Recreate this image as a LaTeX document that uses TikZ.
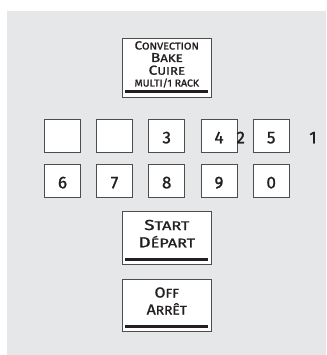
\documentclass[tikz,border=0pt]{standalone}
\usepackage{fontspec}
\setmainfont{Fira Sans}[FakeBold=1.2]
\definecolor{panel}{HTML}{E6E7E8}
\definecolor{rim}{HTML}{4D4D4D}
\definecolor{ink}{HTML}{231F20}
% first letter full size, rest in smaller capitals
\newcommand\capsc[4]{{\fontsize{#1}{#1}\selectfont #3}{\fontsize{#2}{#2}\selectfont #4}}
\tikzset{
  key/.style={draw=rim, fill=white, line width=0.8pt, minimum width=36pt,
    minimum height=33pt, inner sep=0pt, text height=15pt, text depth=0pt,
    text=ink, font=\fontsize{17}{17}\selectfont},
  digit/.style={inner sep=0pt, anchor=base, text=ink, font=\fontsize{17}{17}\selectfont},
  panelkey/.style={draw=rim, fill=white, line width=0.8pt, minimum width=89pt,
    inner sep=0pt},
  bar/.style={line width=2.8pt, ink},
  caption/.style={inner sep=0pt, anchor=base, text=ink}
}

\begin{document}
\begin{tikzpicture}[x=1pt,y=-1pt]
  \useasboundingbox (0,0) rectangle (326,355);
  \fill[panel] (7,11) rectangle (326,355);

  % Convection key
  \node[panelkey, minimum height=59pt] (conv) at (166.8,67.5) {};
  \draw[bar] ([xshift=3.5pt,yshift=5.5pt]conv.south west) -- ([xshift=-3.5pt,yshift=5.5pt]conv.south east);
  \node[caption, xscale=1.12] (convA) at (166.8,49.5) {\capsc{11.8}{9.8}{C}{ONVECTION}};
  \node[caption, xscale=1.2] (convB) at (166.8,62) {\capsc{13}{11}{B}{AKE}};
  \node[caption, xscale=1.2] (convC) at (166.8,74.7) {\capsc{13}{11}{C}{UIRE}};
  \node[caption, xscale=1.05, font=\fontsize{10}{10}\selectfont] (convD) at (166.8,86.5) {MULTI/1 RACK};

  % Number keys, top row
  \node[key] (k1) at (62.5,135.8) {};
  \node[key] (k2) at (114.5,135.8) {};
  \node[key] (k3) at (166.7,135.8) {3};
  \node[key] (k4) at (219,135.8) {4};
  \node[key] (k5) at (271.2,135.8) {5};
  \node[digit] (two) at (240.7,143.3) {2};
  \node[digit] (one) at (313,143.3) {1};

  % Number keys, bottom row
  \node[key] (k6) at (62.5,180.8) {6};
  \node[key] (k7) at (114.5,180.8) {7};
  \node[key] (k8) at (166.7,180.8) {8};
  \node[key] (k9) at (219,180.8) {9};
  \node[key] (k0) at (271.2,180.8) {0};

  % Start key
  \node[panelkey, minimum height=52.6pt] (start) at (166.8,238) {};
  \draw[bar] ([xshift=3.5pt,yshift=5.3pt]start.south west) -- ([xshift=-3.5pt,yshift=5.3pt]start.south east);
  \node[caption, xscale=1.3] (startA) at (166.8,230) {\capsc{14.5}{12.5}{S}{TART}};
  \node[caption, xscale=1.3] (startB) at (166.8,247.3) {\capsc{14.5}{12.5}{D}{ÉPART}};

  % Off key
  \node[panelkey, minimum height=52pt] (off) at (166.8,305) {};
  \draw[bar] ([xshift=3.5pt,yshift=5pt]off.south west) -- ([xshift=-3.5pt,yshift=5pt]off.south east);
  \node[caption, xscale=1.1] (offA) at (166.8,297.5) {\capsc{14.5}{12.5}{O}{FF}};
  \node[caption, xscale=1.1] (offB) at (166.8,314.5) {\capsc{14.5}{12.5}{A}{RRÊT}};
\end{tikzpicture}
\end{document}
